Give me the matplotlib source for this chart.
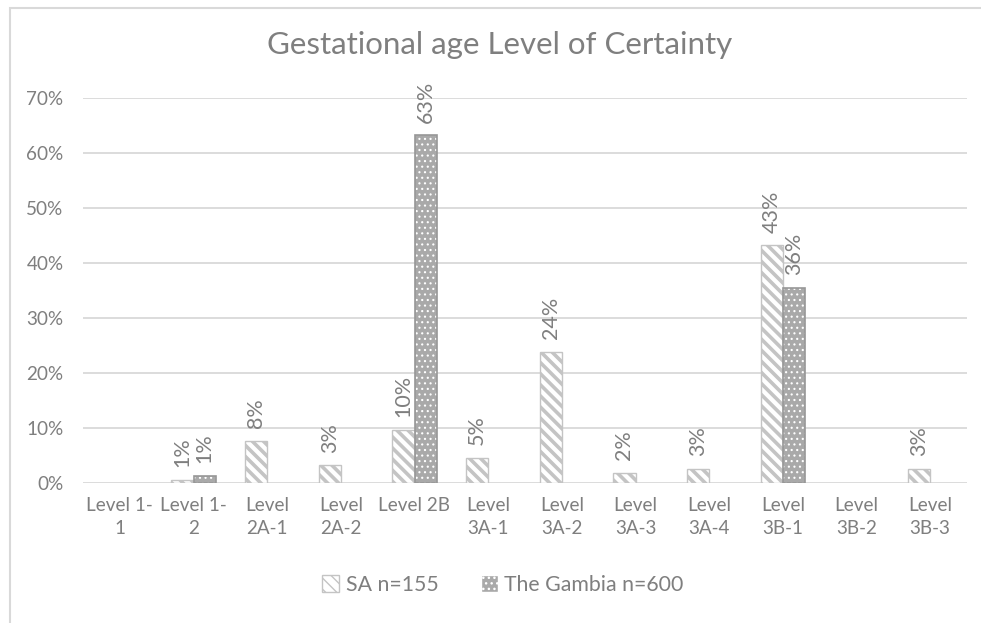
import matplotlib
matplotlib.use("Agg")
import matplotlib.pyplot as plt
import numpy as np
from matplotlib.patches import Rectangle, Patch

plt.rcParams['font.family'] = ['Lato', 'DejaVu Sans']

categories = ["Level 1-\n1", "Level 1-\n2", "Level\n2A-1", "Level\n2A-2", "Level 2B",
              "Level\n3A-1", "Level\n3A-2", "Level\n3A-3", "Level\n3A-4", "Level\n3B-1",
              "Level\n3B-2", "Level\n3B-3"]
sa_values = [0.0, 0.6, 7.7, 3.2, 9.7, 4.6, 23.9, 1.9, 2.6, 43.2, 0.0, 2.6]
gambia_values = [0.0, 1.3, 0.0, 0.0, 63.2, 0.0, 0.0, 0.0, 0.0, 35.5, 0.0, 0.0]
series_names = ["SA n=155", "The Gambia n=600"]
yticks = [0, 10, 20, 30, 40, 50, 60, 70]

W, H = 981, 623
fig = plt.figure(figsize=(W / 100, H / 100), dpi=100)
ax = fig.add_axes([83 / W, 1 - 483 / H, (967 - 83) / W, (483 - 98) / H])

txt = '#7f7f7f'
grid = '#d9d9d9'

x = np.arange(len(categories))
bw = 0.30
sa = np.array(sa_values)
gm = np.array(gambia_values)
ms = sa > 0
mg = gm > 0

with plt.rc_context({'hatch.linewidth': 2.6}):
    ax.bar((x - bw / 2)[ms], sa[ms], bw, color='white', edgecolor='#c4c4c4',
           hatch='\\\\\\', linewidth=1.0, zorder=3)
with plt.rc_context({'hatch.linewidth': 0.8}):
    ax.bar((x + bw / 2)[mg], gm[mg], bw, color='#a9a9a9', edgecolor='white',
           hatch='...', linewidth=0, zorder=3)
ax.bar((x + bw / 2)[mg], gm[mg], bw, fill=False, edgecolor='#979797', linewidth=1.2, zorder=4)

for xs, vals in ((x - bw / 2, sa), (x + bw / 2, gm)):
    for xi, v in zip(xs, vals):
        if v > 0:
            ax.annotate(f"{round(v):.0f}%", (xi, v), xytext=(0, 9), textcoords='offset points',
                        rotation=90, ha='center', va='bottom', color=txt, fontsize=15.5,
                        annotation_clip=False)

ax.set_xlim(-0.5, len(categories) - 0.5)
ax.set_ylim(0, 70)
ax.set_yticks(yticks)
ax.set_yticklabels([f"{t}%" for t in yticks])
ax.set_xticks(x)
ax.set_xticklabels(categories, linespacing=1.45)
ax.tick_params(axis='both', length=0, colors=txt, labelsize=13.6)
ax.tick_params(axis='y', pad=14)
ax.tick_params(axis='x', pad=10)
for s in ax.spines.values():
    s.set_visible(False)
ax.yaxis.grid(True, color=grid, linewidth=1.3, zorder=0)
ax.set_axisbelow(True)

fig.text(500 / W, 1 - 45 / H, "Gestational age Level of Certainty", ha='center', va='center',
         color=txt, fontsize=22.5)

h1 = Patch(facecolor='white', edgecolor='#c4c4c4', hatch='\\\\\\')
h2 = Patch(facecolor='#a9a9a9', edgecolor='white', hatch='...')
leg = fig.legend([h1, h2], series_names, loc='center', bbox_to_anchor=(503 / W, 1 - 585 / H),
                 ncol=2, frameon=False, fontsize=15.3, handlelength=0.8, handleheight=0.8,
                 columnspacing=2.0, handletextpad=0.3, labelcolor=txt)

fig.patches.append(Rectangle((10 / W, -0.1), 1.2, 1 - 8 / H + 0.1, transform=fig.transFigure,
                             fill=False, edgecolor=grid, linewidth=1.5, figure=fig))

fig.savefig("out.png", dpi=100, facecolor='white')
